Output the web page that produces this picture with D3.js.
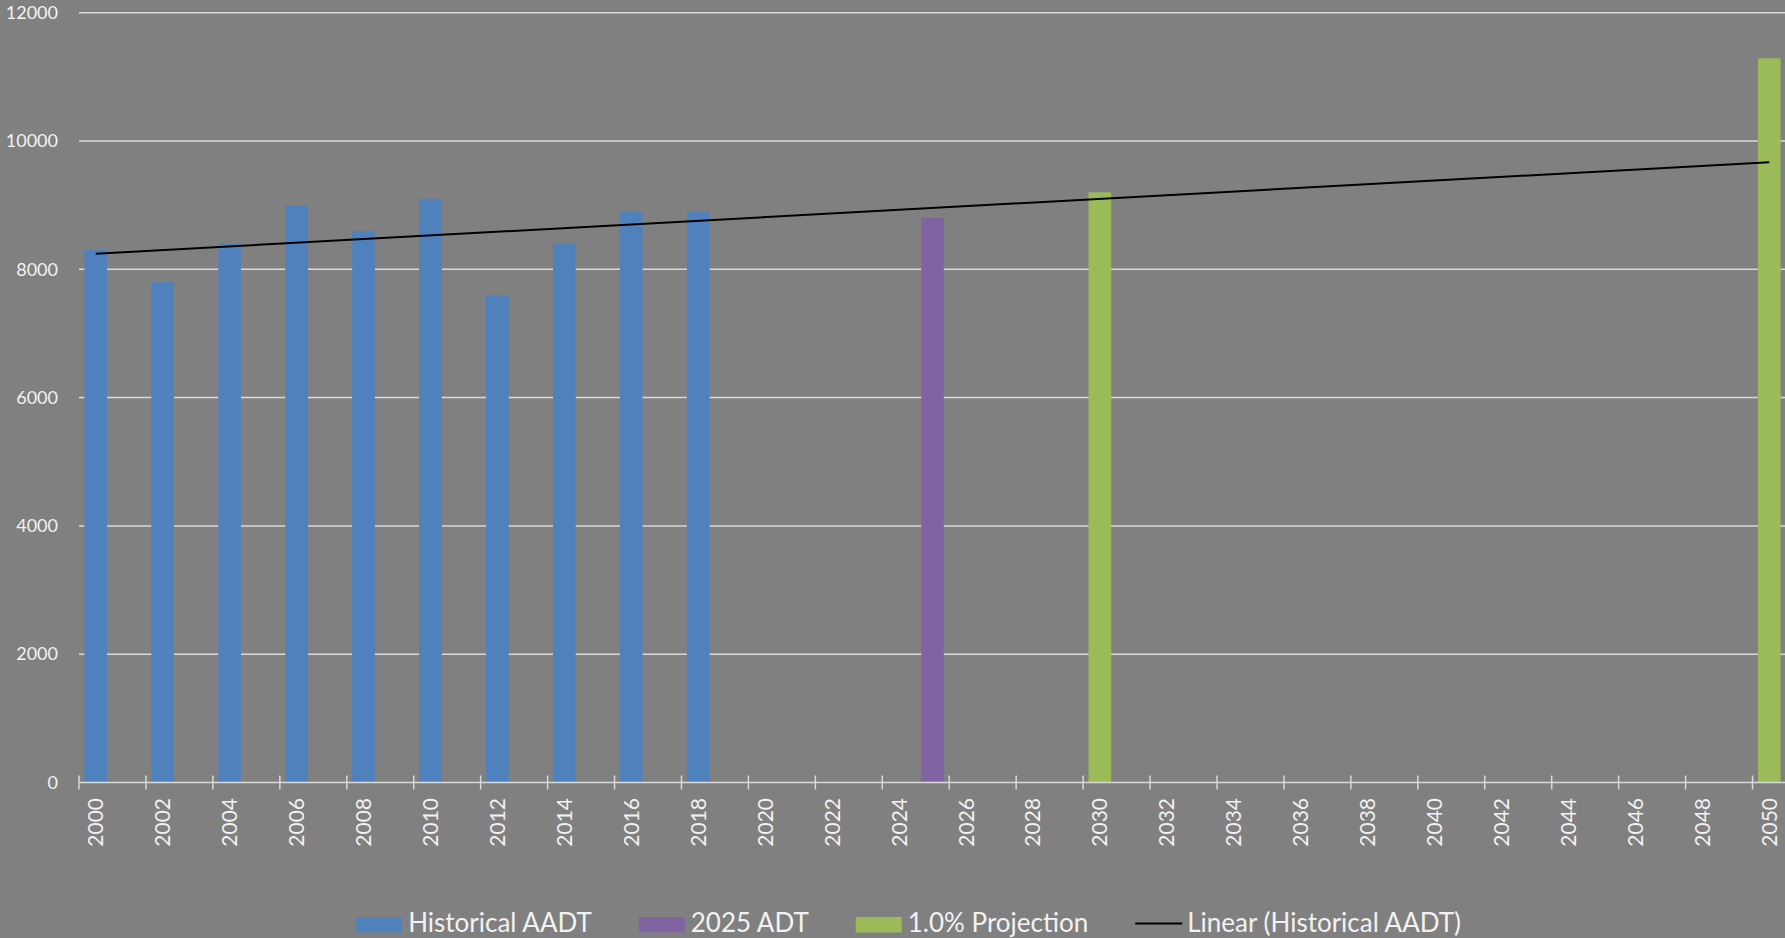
<!DOCTYPE html>
<html>
<head>
<meta charset="utf-8">
<script src="https://cdn.jsdelivr.net/npm/d3@7"></script>
<style>
  html, body { margin: 0; padding: 0; background: #808080; }
  svg { display: block; }
</style>
</head>
<body>
<svg id="chart" width="1785" height="938"></svg>
<script>
// ---- data ----
const years = d3.range(2000, 2051);          // category axis 2000..2050
const yTicks = [0, 2000, 4000, 6000, 8000, 10000, 12000];
const xLabelYears = d3.range(2000, 2051, 2);

const historicalYears = [2000, 2002, 2004, 2006, 2008, 2010, 2012, 2014, 2016, 2018];
const historicalValues = [8300, 7800, 8400, 9000, 8600, 9100, 7600, 8400, 8900, 8900];

const adtYears = [2025];
const adtValues = [8800];

const projYears = [2030, 2050];
const projValues = [9200, 11290];

const seriesNames = ["Historical AADT", "2025 ADT", "1.0% Projection", "Linear (Historical AADT)"];
const seriesColors = ["#4f81bd", "#8064a2", "#9bbb59", "#000000"];

// ---- layout ----
const W = 1785, H = 938;
const plot = { left: 79, right: 1786, top: 12.7, bottom: 782.5 };
const svg = d3.select("#chart");
svg.append("rect").attr("width", W).attr("height", H).attr("fill", "#808080");

const x = d3.scaleBand().domain(years).range([plot.left, plot.right]).paddingInner(0.323).paddingOuter(0.1615);
const xc = d3.scaleBand().domain(years).range([plot.left, plot.right]).padding(0);
const y = d3.scaleLinear().domain([0, 12000]).range([plot.bottom, plot.top]);

const textColor = "#f2f2f2";
const gridColor = "#d9d9d9";
const font = "Lato, 'Open Sans', sans-serif";

// gridlines
svg.append("g").selectAll("line").data(yTicks.filter(d => d > 0)).join("line")
  .attr("x1", plot.left).attr("x2", plot.right)
  .attr("y1", d => y(d)).attr("y2", d => y(d))
  .attr("stroke", gridColor).attr("stroke-width", 1.5);

// y axis labels
const yAxis = d3.axisLeft(y).tickValues(yTicks).tickSize(0).tickPadding(21).tickFormat(d3.format("d"));
const gy = svg.append("g").attr("transform", `translate(${plot.left},0)`).call(yAxis);
gy.select(".domain").remove();
gy.selectAll("text").attr("fill", textColor).style("font-family", font).style("font-size", "18px");

// bars
function drawBars(ys, vs, color) {
  svg.append("g").selectAll("rect").data(ys.map((yr, i) => ({ yr, v: vs[i] }))).join("rect")
    .attr("x", d => x(d.yr)).attr("width", x.bandwidth())
    .attr("y", d => y(d.v)).attr("height", d => y(0) - y(d.v))
    .attr("fill", color);
}
drawBars(historicalYears, historicalValues, seriesColors[0]);
drawBars(adtYears, adtValues, seriesColors[1]);
drawBars(projYears, projValues, seriesColors[2]);

// x axis
const gx = svg.append("g").attr("transform", `translate(0,${plot.bottom})`);
gx.append("line").attr("x1", plot.left).attr("x2", plot.right).attr("y1", 0).attr("y2", 0)
  .attr("stroke", gridColor).attr("stroke-width", 1.5);
gx.selectAll("line.tick").data(xLabelYears).join("line").attr("class", "tick")
  .attr("x1", d => xc(d)).attr("x2", d => xc(d)).attr("y1", -7).attr("y2", 7)
  .attr("stroke", gridColor).attr("stroke-width", 1.5);
gx.selectAll("text").data(xLabelYears).join("text")
  .attr("transform", d => `translate(${xc(d) + xc.bandwidth() / 2},15.5) rotate(-90)`)
  .attr("text-anchor", "end").attr("dy", "0.36em")
  .attr("fill", textColor).style("font-family", font).style("font-size", "21px")
  .text(d => d);

// linear trendline of historical series (category index as x)
const idx = historicalYears.map(yr => years.indexOf(yr));
const mx = d3.mean(idx), my = d3.mean(historicalValues);
const slope = d3.sum(idx.map((xi, i) => (xi - mx) * (historicalValues[i] - my))) / d3.sum(idx.map(xi => (xi - mx) ** 2));
const intercept = my - slope * mx;
const trendEnds = [years[0], years[years.length - 1]];
const line = d3.line().x(d => xc(d) + xc.bandwidth() / 2).y(d => y(intercept + slope * years.indexOf(d)));
svg.append("path").datum(trendEnds).attr("d", line).attr("fill", "none")
  .attr("stroke", "#000").attr("stroke-width", 2);

// legend
const legend = svg.append("g");
const legFont = "26px";
const items = seriesNames.map((name, i) => ({ name, color: seriesColors[i], line: i === 3 }));
let cursor = 0;
const swW = 46, swGap = 6, itemGap = 47;
const legendY = 925;
items.forEach((it, i) => {
  const g = legend.append("g").attr("transform", `translate(${cursor},0)`);
  if (it.line) {
    g.append("line").attr("x1", 0).attr("x2", swW + 1).attr("y1", legendY - 1.5).attr("y2", legendY - 1.5)
      .attr("stroke", it.color).attr("stroke-width", 2);
  } else {
    g.append("rect").attr("x", 0).attr("y", legendY - 8).attr("width", swW).attr("height", 15.5).attr("fill", it.color);
  }
  const t = g.append("text").attr("x", swW + swGap).attr("y", 932.3)
    .attr("fill", textColor).style("font-family", font).style("font-size", legFont).text(it.name);
  const w = t.node().getComputedTextLength();
  cursor += swW + swGap + w + itemGap;
});
const totalW = cursor - itemGap;
legend.attr("transform", `translate(${908.6 - totalW / 2},0)`);
</script>
</body>
</html>
